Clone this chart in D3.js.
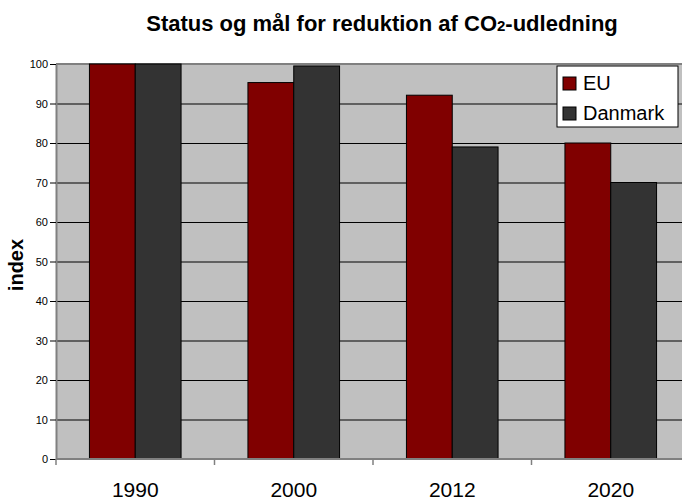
<!DOCTYPE html>
<html>
<head>
<meta charset="utf-8">
<script src="https://cdn.jsdelivr.net/npm/d3@7"></script>
<style>
  body { margin: 0; background: #fff; overflow: hidden; }
  text { font-family: "Liberation Sans", Arial, sans-serif; }
</style>
</head>
<body>
<div class="chart"></div>
<script>
// data
var years = ["1990", "2000", "2012", "2020"];
var series = ["EU", "Danmark"];
var euValues = [100, 95.3, 92.1, 80];
var dkValues = [100, 99.5, 79, 70];
var yTicks = [0, 10, 20, 30, 40, 50, 60, 70, 80, 90, 100];
var colors = ["#800000", "#333333"];

var svgWidth = 682;
var svgHeight = 501;

var margin = { top: 64, right: -8, bottom: 42, left: 56 };
var width = svgWidth - margin.left - margin.right;
var height = svgHeight - margin.top - margin.bottom;

var svg = d3.select(".chart")
  .append("svg")
  .attr("width", svgWidth)
  .attr("height", svgHeight);

var rows = years.map(function(y, i) {
  return { year: y, values: [euValues[i], dkValues[i]] };
});

var x0 = d3.scaleBand().domain(years).range([0, width]);
var x1 = d3.scaleBand().domain(series).range([0, x0.bandwidth()]).paddingOuter(0.73);
var y = d3.scaleLinear().domain([0, 100]).range([height, 0]);

var chartGroup = svg.append("g")
  .attr("transform", `translate(${margin.left}, ${margin.top})`);

// plot background
chartGroup.append("rect")
  .attr("width", width)
  .attr("height", height)
  .attr("fill", "#c0c0c0");

// gridlines
chartGroup.selectAll("line.grid")
  .data(yTicks.slice(1, -1))
  .enter()
  .append("line")
  .attr("class", "grid")
  .attr("x1", 0)
  .attr("x2", width)
  .attr("y1", d => y(d) + 0.5)
  .attr("y2", d => y(d) + 0.5)
  .attr("stroke", "#000")
  .attr("stroke-width", 1);

// top border
chartGroup.append("line")
  .attr("x1", 0).attr("x2", width)
  .attr("y1", 0).attr("y2", 0)
  .attr("stroke", "#808080")
  .attr("stroke-width", 2);

// bars
var groups = chartGroup.selectAll("g.year")
  .data(rows)
  .enter()
  .append("g")
  .attr("class", "year")
  .attr("transform", d => `translate(${x0(d.year)},0)`);

groups.selectAll("rect")
  .data(d => d.values.map((v, i) => ({ key: series[i], value: v, i: i })))
  .enter()
  .append("rect")
  .attr("x", d => x1(d.key))
  .attr("y", d => y(d.value))
  .attr("width", x1.bandwidth())
  .attr("height", d => height - y(d.value))
  .attr("fill", d => colors[d.i])
  .attr("stroke", "#000")
  .attr("stroke-width", 1);

// y axis
var leftAxis = d3.axisLeft(y).tickValues(yTicks).tickSize(6).tickSizeOuter(0);
var yAxis = chartGroup.append("g").call(leftAxis);
yAxis.select(".domain").attr("stroke", "#808080").attr("stroke-width", 2);
yAxis.selectAll(".tick line").attr("stroke", "#000");
yAxis.selectAll(".tick text")
  .attr("x", -8)
  .style("font-size", "11px")
  .attr("fill", "#000");

// x axis
var xAxisG = chartGroup.append("g").attr("transform", `translate(0, ${height})`);
xAxisG.append("line")
  .attr("x1", 0).attr("x2", width)
  .attr("y1", 0).attr("y2", 0)
  .attr("stroke", "#808080")
  .attr("stroke-width", 2);
xAxisG.selectAll("line.tick")
  .data(years)
  .enter()
  .append("line")
  .attr("class", "tick")
  .attr("x1", d => x0(d)).attr("x2", d => x0(d))
  .attr("y1", 0).attr("y2", 6)
  .attr("stroke", "#808080")
  .attr("stroke-width", 1.5);
xAxisG.selectAll("text")
  .data(years)
  .enter()
  .append("text")
  .attr("x", d => x0(d) + x0.bandwidth() / 2)
  .attr("y", 38)
  .attr("text-anchor", "middle")
  .style("font-size", "21px")
  .text(d => d);

// y axis title
svg.append("text")
  .attr("transform", "translate(23, 265) rotate(-90)")
  .attr("text-anchor", "middle")
  .style("font-size", "20px")
  .style("font-weight", "bold")
  .text("index");

// title
var title = svg.append("text")
  .attr("x", 382)
  .attr("y", 31)
  .attr("text-anchor", "middle")
  .style("font-size", "22px")
  .style("font-weight", "bold");
title.append("tspan").text("Status og mål for reduktion af CO");
title.append("tspan").style("font-size", "15px").text("2");
title.append("tspan").text("-udledning");

// legend
var legend = svg.append("g").attr("transform", "translate(557, 66)");
legend.append("rect")
  .attr("width", 121)
  .attr("height", 61)
  .attr("fill", "#fff")
  .attr("stroke", "#000")
  .attr("stroke-width", 1);
var items = legend.selectAll("g.item")
  .data(series)
  .enter()
  .append("g")
  .attr("class", "item")
  .attr("transform", (d, i) => `translate(6, ${11 + i * 30})`);
items.append("rect")
  .attr("width", 13)
  .attr("height", 13)
  .attr("fill", (d, i) => colors[i])
  .attr("stroke", "#000");
items.append("text")
  .attr("x", 20)
  .attr("y", 13)
  .style("font-size", "20px")
  .text(d => d);
</script>
</body>
</html>
